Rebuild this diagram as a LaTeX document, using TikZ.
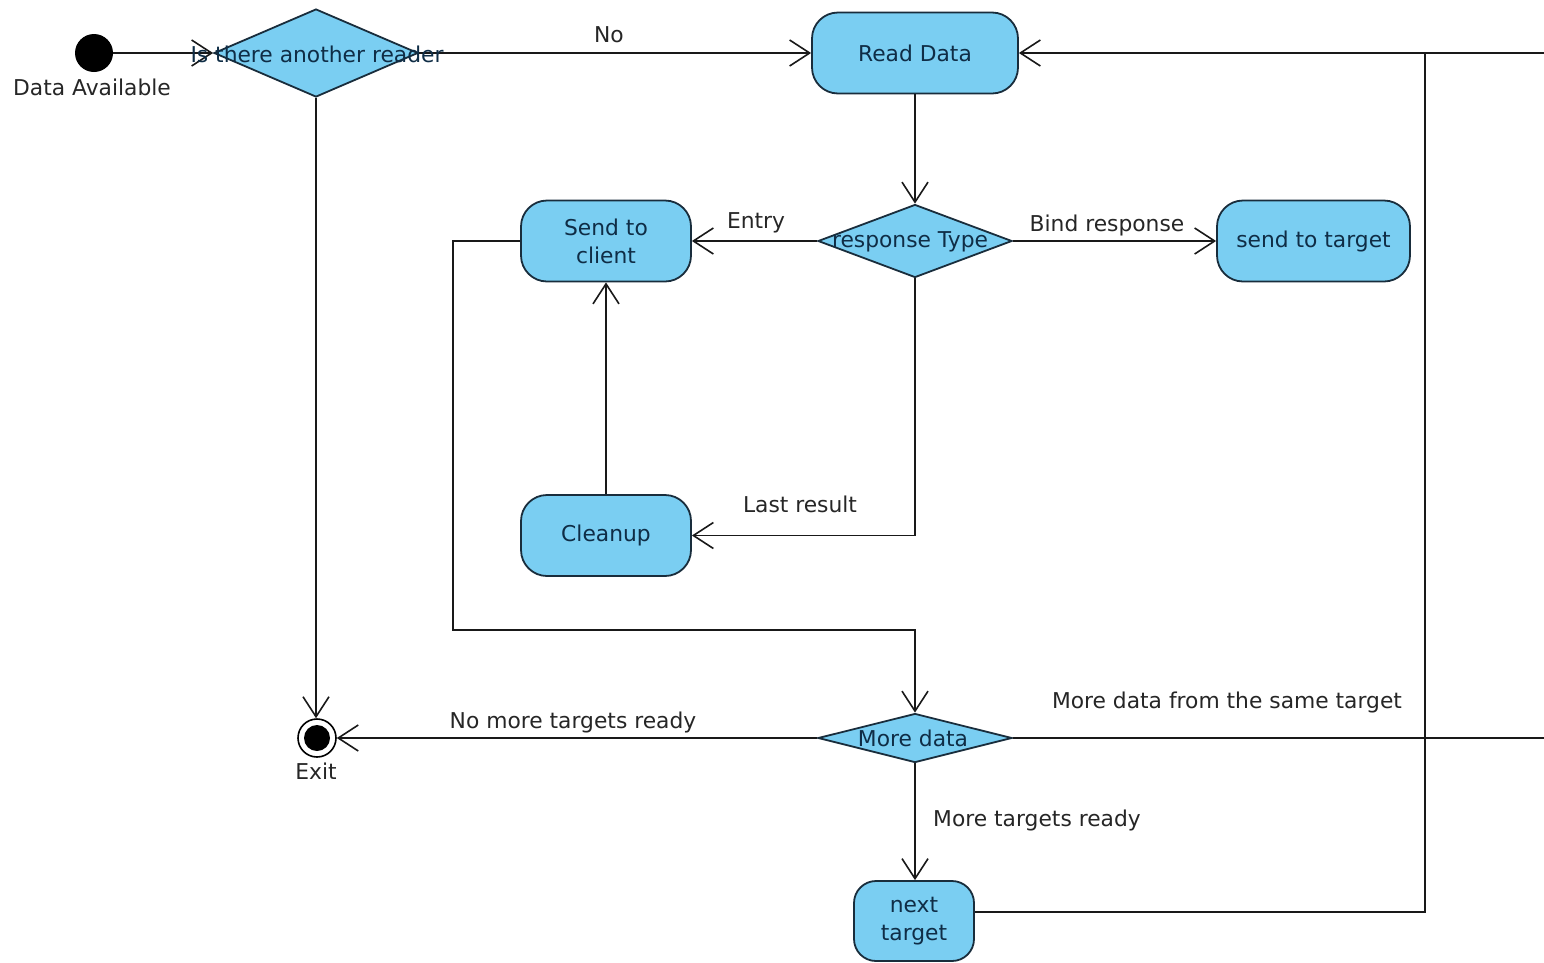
\documentclass[tikz,border=0pt]{standalone}
\usepackage{fontspec}
\setmainfont{DejaVu Sans}
\usetikzlibrary{shapes.geometric,arrows.meta}
\definecolor{fillb}{RGB}{122,206,242}
\definecolor{edgec}{RGB}{25,45,60}
\definecolor{ntext}{RGB}{15,45,70}
\begin{document}
\begin{tikzpicture}[x=1pt,y=-1pt,
  font=\fontsize{21.8}{28}\selectfont,
  act/.style={draw=edgec, fill=fillb, rounded corners=26pt, line width=1.8pt, text=ntext, align=center, inner sep=0pt},
  dec/.style={draw=edgec, fill=fillb, diamond, inner sep=0pt, line width=1.8pt},
  dtext/.style={text=ntext, inner sep=0pt},
  lbl/.style={text=black!85, inner sep=0pt},
  plain/.style={draw=black!90, line width=1.8pt},
  flow/.style={plain, -{Straight Barb[length=20pt,width=26pt,line width=1.6pt]}}]
\useasboundingbox (0,0) rectangle (1544,962);
\fill[white] (0,0) rectangle (1544,962);

% nodes
\node[circle, fill=black, minimum size=38pt, inner sep=0pt] (init) at (94,53) {};
\node[lbl] at (92,87) {Data Available};
\node[dec, minimum width=204pt, minimum height=88pt] (d1) at (316,53) {};
\node[act, minimum width=206pt, minimum height=81pt] (rd) at (915,53) {Read Data};
\node[dec, minimum width=194pt, minimum height=73pt] (rt) at (915,241) {};
\node[act, minimum width=170pt, minimum height=81pt] (sc) at (606,241) {Send to\\client};
\node[act, minimum width=193pt, minimum height=81pt] (st) at (1313.5,241) {send to target};
\node[act, minimum width=170pt, minimum height=81pt] (cu) at (606,535.5) {Cleanup};
\node[dec, minimum width=194pt, minimum height=49pt] (md) at (915,738) {};
\node[act, minimum width=120pt, minimum height=80pt, rounded corners=22pt] (nt) at (914,921) {next\\target};
\node[circle, draw=black, line width=1.6pt, fill=white, minimum size=38pt, inner sep=0pt] (exit) at (317,738) {};
\node[circle, fill=black, minimum size=26pt, inner sep=0pt] (exitdot) at (exit) {};
\node[lbl] at (316,771) {Exit};

\coordinate (b1) at (453,630);
\coordinate (j) at (1425,53);
\coordinate (j2) at (1425,912);
\coordinate (e1) at (1544,738);
\coordinate (e2) at (1544,53);

% connectors
\draw[flow] (init) -- (d1.west);
\draw[flow] (d1.east) -- (rd.west);
\draw[flow] (rd) -- (rt.north);
\draw[flow] (rt.west) -- (sc.east);
\draw[flow] (rt.east) -- (st.west);
\draw[flow] (rt.south) |- (cu.east);
\draw[flow] (cu) -- (sc);
\draw[flow] (sc.west) -| (b1) -| (md.north);
\draw[flow] (md.west) -- (exit);
\draw[flow] (d1.south |- d1.south) -- (exit.north -| d1.south);
\draw[flow] (md.south) -- (nt.north -| md.south);
\draw[flow] (nt.east |- j2) -- (j2) -- (j) -- (rd.east);
\draw[plain] (md.east) -- (e1);
\draw[plain] (e2) -- (j);

% texts on decisions (drawn over lines)
\node[dtext] at (317,54) {Is there another reader};
\node[dtext] at (910,242) {response Type};
\node[dtext] at (913,738) {More data};

% edge labels
\node[lbl] at (609,35) {No};
\node[lbl] at (756,223) {Entry};
\node[lbl] at (1107,225) {Bind response};
\node[lbl] at (800,504) {Last result};
\node[lbl] at (573,722) {No more targets ready};
\node[lbl] at (1037,820) {More targets ready};
\node[lbl] at (1227,702) {More data from the same target};
\end{tikzpicture}
\end{document}
